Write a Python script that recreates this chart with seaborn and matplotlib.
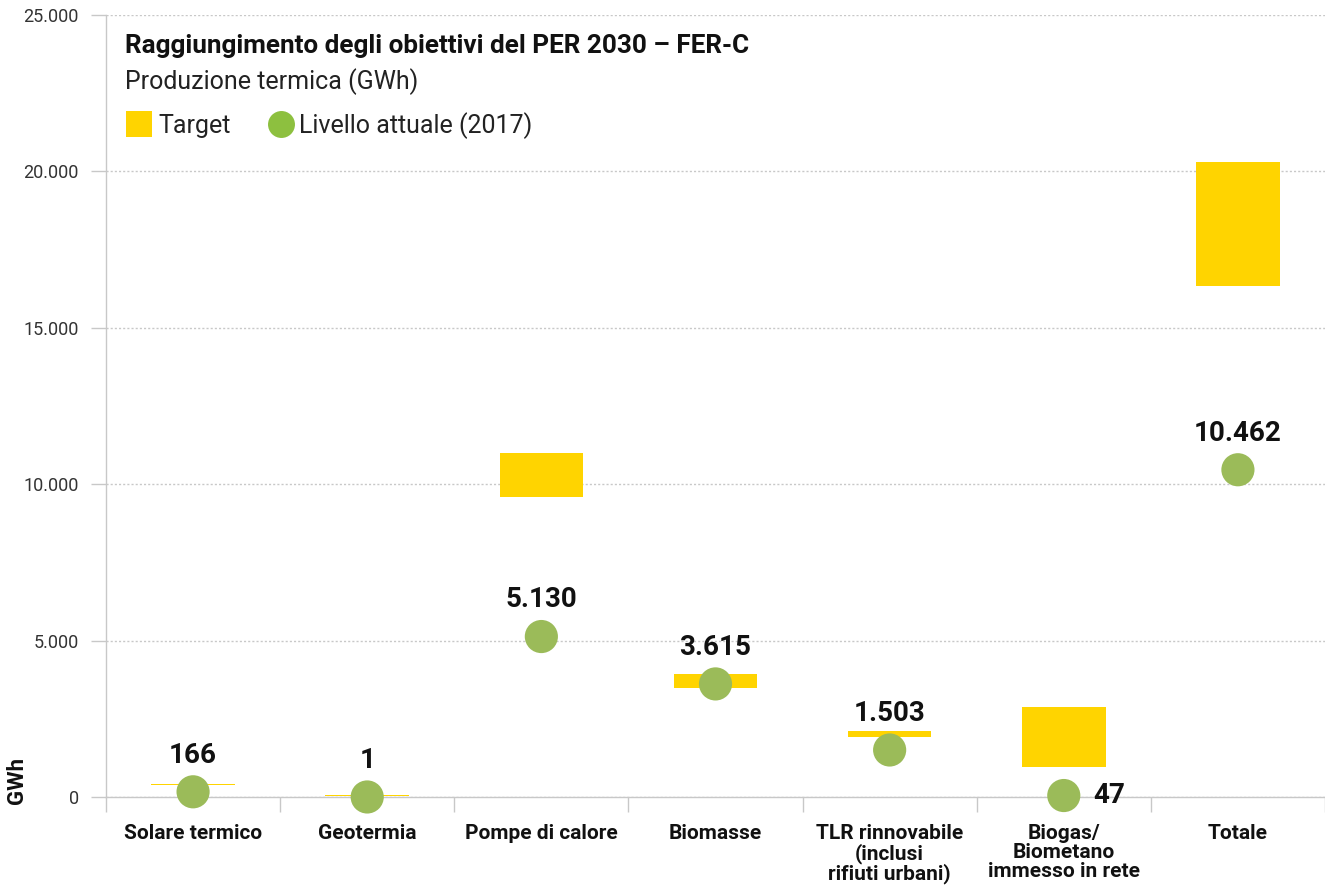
import matplotlib
matplotlib.use("Agg")
import matplotlib.pyplot as plt
from matplotlib.lines import Line2D
from matplotlib.ticker import FuncFormatter
import seaborn as sns
import pandas as pd

# --- data (GWh) ---
categories = ["Solare termico", "Geotermia", "Pompe di calore", "Biomasse",
              "TLR rinnovabile", "Biogas/Biometano", "Totale"]
tick_labels = ["Solare termico", "Geotermia", "Pompe di calore", "Biomasse",
               "TLR rinnovabile\n(inclusi\nrifiuti urbani)",
               "Biogas/\nBiometano\nimmesso in rete", "Totale"]
target_low = [370, 35, 9580, 3500, 1930, 970, 16330]
target_high = [410, 70, 11000, 3940, 2110, 2880, 20310]
current_2017 = [166, 1, 5130, 3615, 1503, 47, 10462]
label_side = ["top", "top", "top", "top", "top", "right", "top"]
y_ticks = [0, 5000, 10000, 15000, 20000, 25000]
legend_labels = ["Target", "Livello attuale (2017)"]

YELLOW = "#FFD400"
GREEN = "#9BBB59"
GREEN_LEG = "#8DC03F"
GRAY = "#C8C8C8"
INK = "#111111"

sns.set_style("white")
plt.rcParams["font.family"] = ["Roboto", "DejaVu Sans"]

df = pd.DataFrame({
    "categoria": categories,
    "low": target_low,
    "span": [h - l for h, l in zip(target_high, target_low)],
    "attuale": current_2017,
})

W, H = 1325, 890
fig = plt.figure(figsize=(W / 100, H / 100), dpi=100)
ax = fig.add_axes([106 / W, 1 - 797 / H, 1 - 106 / W, (797 - 15) / H])


def fx(px):
    return px / W


def fy(py):
    return 1 - py / H


# target ranges as floating bars
sns.barplot(data=df, x="categoria", y="span", bottom=df["low"].values,
            color=YELLOW, saturation=1, width=0.48, ax=ax, zorder=2,
            edgecolor="none", linewidth=0)

# current level
sns.scatterplot(data=df, x="categoria", y="attuale", s=570, color=GREEN,
                edgecolor="none", ax=ax, zorder=4, clip_on=False, legend=False)

for i, (v, side) in enumerate(zip(current_2017, label_side)):
    txt = f"{v:,}".replace(",", ".")
    if side == "top":
        ax.annotate(txt, (i, v), xytext=(0, 21), textcoords="offset points",
                    ha="center", va="baseline", fontsize=20, weight="bold",
                    color=INK, zorder=5)
    else:
        ax.annotate(txt, (i, v), xytext=(21, 0), textcoords="offset points",
                    ha="left", va="center", fontsize=20, weight="bold",
                    color=INK, zorder=5)

# axes
ax.set_xlim(-0.5, len(categories) - 0.5)
ax.set_ylim(0, 25000)
ax.set_yticks(y_ticks)
ax.yaxis.set_major_formatter(FuncFormatter(lambda v, p: f"{int(v):,}".replace(",", ".")))
ax.tick_params(axis="y", length=11, width=1, color=GRAY, pad=8.5,
               labelsize=13, labelcolor="#333333", left=True)
ax.yaxis.grid(True, linestyle=(0, (1.5, 1.5)), color=GRAY, linewidth=1)
ax.set_axisbelow(True)

ax.set_xticks(range(len(categories)))
ax.set_xticklabels(tick_labels, fontsize=15, weight="bold", color=INK,
                   linespacing=1.0)
ax.tick_params(axis="x", which="major", length=0, pad=19.5)
ax.set_xticks([i - 0.5 for i in range(len(categories) + 1)], minor=True)
ax.tick_params(axis="x", which="minor", length=10.5, width=1, color=GRAY,
               bottom=True)

for s in ["top", "right"]:
    ax.spines[s].set_visible(False)
for s in ["left", "bottom"]:
    ax.spines[s].set_color(GRAY)
    ax.spines[s].set_linewidth(1)
ax.set_xlabel("")
ax.set_ylabel("")

fig.text(fx(17), fy(781), "GWh", rotation=90, ha="center",
         va="center", fontsize=16, weight="bold", color=INK)

# heading
fig.text(fx(125), fy(53),
         "Raggiungimento degli obiettivi del PER 2030 \u2013 FER-C",
         fontsize=18.8, weight="bold", color=INK, va="baseline")
fig.text(fx(125), fy(89), "Produzione termica (GWh)",
         fontsize=18, color="#222222", va="baseline")

# key
fig.add_artist(Line2D([fx(138.5)], [fy(123.5)], marker="s", ls="",
                      markersize=19.4, color=YELLOW, markeredgewidth=0,
                      transform=fig.transFigure))
fig.text(fx(158), fy(133), legend_labels[0], fontsize=18, color="#222222",
         va="baseline")
fig.add_artist(Line2D([fx(280.5)], [fy(124)], marker="o", ls="",
                      markersize=19.4, color=GREEN_LEG, markeredgewidth=0,
                      transform=fig.transFigure))
fig.text(fx(299), fy(133), legend_labels[1], fontsize=18, color="#222222",
         va="baseline")

fig.savefig("out.png", dpi=100)
